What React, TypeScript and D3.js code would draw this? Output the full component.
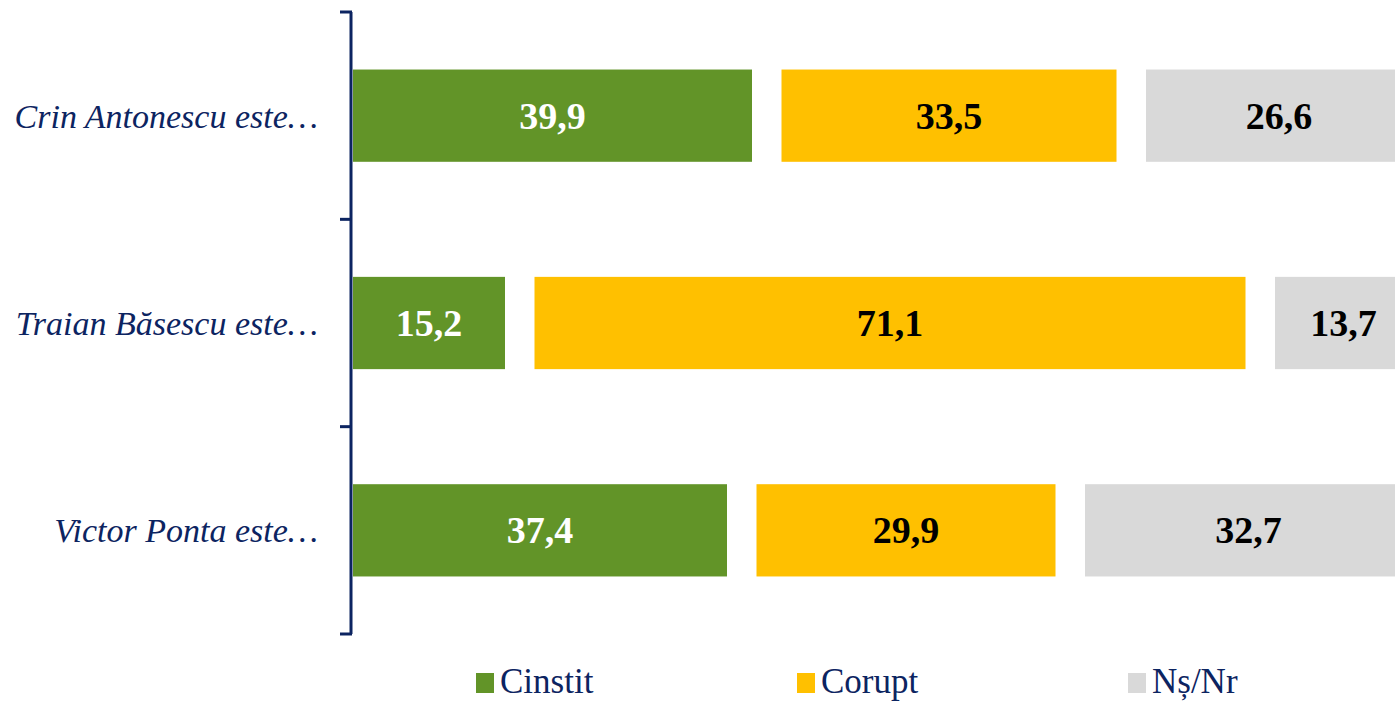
import React from "react";
import * as d3 from "d3";

const categories = ["Crin Antonescu este…", "Traian Băsescu este…", "Victor Ponta este…"];
const seriesNames = ["Cinstit", "Corupt", "Nș/Nr"];
const cinstit = [39.9, 15.2, 37.4];
const corupt = [33.5, 71.1, 29.9];
const nsnr = [26.6, 13.7, 32.7];
const colors = ["#629428", "#FFC000", "#D9D9D9"];
const labelColors = ["#FFFFFF", "#000000", "#000000"];

const W = 1395;
const H = 702;
const NAVY = "#0C2461";

export default function App() {
  const series = [cinstit, corupt, nsnr];
  const x0 = 353;
  const gap = 29.5;
  const x = d3.scaleLinear().domain([0, 100]).range([0, 1000]);
  const y = d3.scaleBand().domain(categories).range([12, 634]).paddingInner(0.555).paddingOuter(0.2775);
  const axisTop = 12, axisBottom = 634;
  const step = (axisBottom - axisTop) / categories.length;
  const ticks = d3.range(categories.length + 1).map((i) => axisTop + i * step);

  const legendX = [476, 797, 1128];

  return (
    <svg width={W} height={H} style={{ position: "absolute", left: 0, top: 0, overflow: "hidden" }}>
      <rect width={W} height={H} fill="#fff" />
      {categories.map((c, ci) => {
        let cum = 0;
        return (
          <g key={c}>
            {series.map((s, si) => {
              const start = x0 + x(cum) + si * gap;
              const w = x(s[ci]);
              cum += s[ci];
              const yy = y(c)!;
              return (
                <g key={si}>
                  <rect x={start} y={yy} width={w} height={y.bandwidth()} fill={colors[si]} />
                  <text
                    x={start + w / 2}
                    y={yy + y.bandwidth() / 2 + 13}
                    textAnchor="middle"
                    fontFamily="'Liberation Serif', serif"
                    fontWeight="bold"
                    fontSize={38}
                    fill={labelColors[si]}
                  >
                    {s[ci].toFixed(1).replace(".", ",")}
                  </text>
                </g>
              );
            })}
            <text
              x={318}
              y={y(c)! + y.bandwidth() / 2 + 12}
              textAnchor="end"
              fontFamily="'Liberation Serif', serif"
              fontStyle="italic"
              fontSize={34}
              fill={NAVY}
            >
              {c}
            </text>
          </g>
        );
      })}
      <line x1={351} x2={351} y1={axisTop} y2={axisBottom} stroke={NAVY} strokeWidth={3} />
      {ticks.map((t, i) => (
        <line key={i} x1={340} x2={352} y1={t} y2={t} stroke={NAVY} strokeWidth={3} />
      ))}
      {seriesNames.map((n, i) => (
        <g key={n}>
          <rect x={legendX[i]} y={673} width={18} height={20} fill={colors[i]} />
          <text
            x={legendX[i] + 24}
            y={693}
            fontFamily="'Liberation Serif', serif"
            fontSize={35}
            fill={NAVY}
          >
            {n}
          </text>
        </g>
      ))}
    </svg>
  );
}
